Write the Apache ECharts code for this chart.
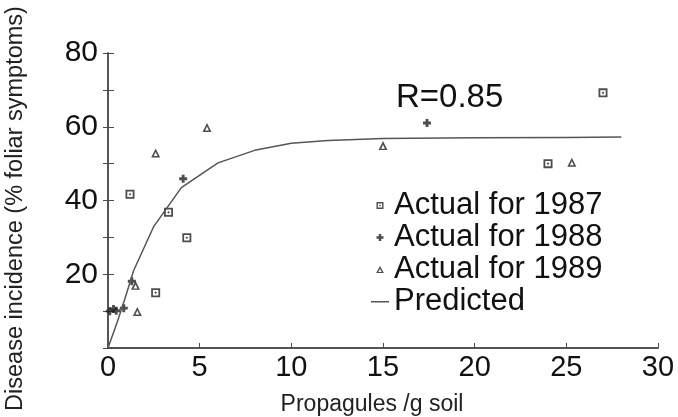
<!DOCTYPE html>
<html>
<head>
<meta charset="utf-8">
<script src="https://cdn.jsdelivr.net/npm/echarts@6/dist/echarts.min.js"></script>
<style>
  html, body { margin: 0; padding: 0; background: #fff; }
  #chart { width: 678px; height: 417px; }
</style>
</head>
<body>
<div id="chart"></div>
<script>
// ===== 数据 =====
const x1987 = [1.2, 3.3, 4.3, 2.6, 24.0, 27.0]
const y1987 = [41.7, 36.8, 29.9, 15.0, 50.0, 69.2]

const x1988 = [0.1, 0.3, 0.45, 0.86, 1.3, 4.1, 17.4]
const y1988 = [10.0, 10.6, 10.1, 10.8, 18.1, 45.9, 61.0]

const x1989 = [1.6, 1.5, 2.6, 5.4, 15.0, 25.3]
const y1989 = [9.9, 17.0, 52.9, 59.8, 54.9, 50.4]

const xPred = [0, 0.5, 0.9, 1.4, 2.5, 4, 6, 8, 10, 12, 15, 20, 25, 28]
const yPred = [0, 7, 13, 21, 33, 43.5, 50.2, 53.6, 55.5, 56.3, 56.8, 57.0, 57.1, 57.2]

const xTicks = [0, 5, 10, 15, 20, 25, 30]
const yLabels = [20, 40, 60, 80]

const pair = (xs, ys) => xs.map((x, i) => [x, ys[i]])

// 标记形状
const sym1987 = 'path://M0,0H10V10H0Z M2,2V8H8V2Z M3.5,5L5,3.5L6.5,5L5,6.5Z'
const sym1988 = 'path://M3.2,0H6.8V3.2H10V6.8H6.8V10H3.2V6.8H0V3.2H3.2Z'
const sym1989 = 'path://M5,0L10,9H0Z M5,3.6L2.9,7.6H7.1Z'
// 图例里的细线（上下两条零面积线段只是撑开外框）
const iconLine = 'path://M0,0L18,0L0,0Z M0,3H18V4.4H0Z M0,7L18,7L0,7Z'

const font = 'Liberation Sans, Arial, Helvetica, sans-serif'
const axisColor = '#4a4a4a'
const ink = '#222'

const chart = echarts.init(document.getElementById('chart'))

chart.setOption({
  animation: false,
  backgroundColor: '#fff',
  textStyle: { fontFamily: font, color: '#111' },
  grid: { left: 108, right: 20, top: 53, bottom: 69, outerBoundsMode: 'none', containLabel: false },
  xAxis: [
    {
      type: 'value', min: 0, max: 30, interval: 5, position: 'bottom',
      name: 'Propagules /g soil', nameLocation: 'middle', nameGap: 45,
      nameTextStyle: { fontSize: 23, color: '#222', padding: [0, 22, 0, 0] },
      axisLine: { lineStyle: { color: axisColor, width: 1.5 } },
      axisTick: { inside: true, length: 5, lineStyle: { color: axisColor } },
      axisLabel: {
        fontSize: 29, color: '#111', margin: 5,
        formatter: v => xTicks.includes(v) ? String(v) : ''
      },
      splitLine: { show: false }
    },
    {
      type: 'value', min: 0, max: 30, position: 'top',
      axisLine: { show: true, lineStyle: { color: axisColor, width: 1.5 } },
      axisTick: { show: false }, axisLabel: { show: false }, splitLine: { show: false }
    }
  ],
  yAxis: [
    {
      type: 'value', min: 0, max: 80, interval: 10, position: 'left',
      name: 'Disease incidence (% foliar symptoms)', nameLocation: 'middle', nameGap: 80,
      nameTextStyle: { fontSize: 23.5, color: '#222', padding: [0, 16, 0, 0] },
      axisLine: { show: true, lineStyle: { color: axisColor, width: 1.5 } },
      axisTick: { inside: true, length: 6, lineStyle: { color: axisColor } },
      axisLabel: {
        fontSize: 30, color: '#111', margin: 10,
        formatter: v => yLabels.includes(v) ? String(v) : ''
      },
      splitLine: { show: false }
    },
    {
      type: 'value', min: 0, max: 80, interval: 10, position: 'right',
      axisLine: { show: true, lineStyle: { color: axisColor, width: 1.5 } },
      axisTick: { inside: true, length: 5, lineStyle: { color: axisColor } },
      axisLabel: { show: false }, splitLine: { show: false }
    }
  ],
  legend: {
    orient: 'vertical', left: 366, top: 185,
    itemWidth: 18, itemHeight: 7, itemGap: 1,
    textStyle: { fontSize: 31, lineHeight: 31, color: '#111', fontFamily: font },
    data: [
      'Actual for 1987', 'Actual for 1988', 'Actual for 1989',
      { name: 'Predicted', icon: iconLine }
    ]
  },
  graphic: [{
    type: 'text', left: 396, top: 81,
    style: { text: 'R=0.85', fontSize: 33, fill: '#111', fontFamily: font }
  }],
  series: [
    {
      name: 'Actual for 1987', type: 'scatter', data: pair(x1987, y1987),
      symbol: sym1987, symbolSize: 9, itemStyle: { color: ink }
    },
    {
      name: 'Actual for 1988', type: 'scatter', data: pair(x1988, y1988),
      symbol: sym1988, symbolSize: 8, itemStyle: { color: ink }
    },
    {
      name: 'Actual for 1989', type: 'scatter', data: pair(x1989, y1989),
      symbol: sym1989, symbolSize: 9, itemStyle: { color: ink }
    },
    {
      name: 'Predicted', type: 'line', data: pair(xPred, yPred),
      showSymbol: false, symbol: 'none', smooth: false,
      lineStyle: { color: '#555', width: 1.5 }, itemStyle: { color: '#555' }
    }
  ]
})
</script>
</body>
</html>
